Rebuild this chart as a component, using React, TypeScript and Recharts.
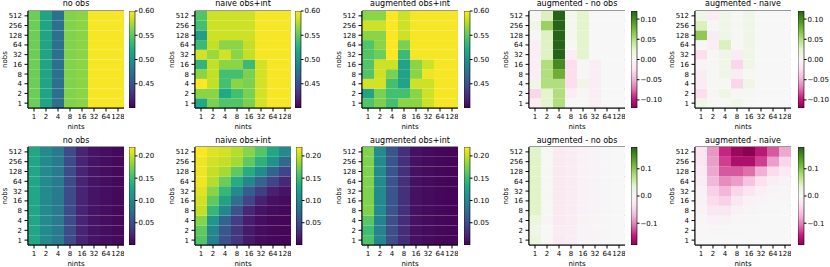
import React from "react";
import { BarChart, Bar, XAxis, YAxis, Cell, ReferenceArea } from "recharts";

const nints = ["1", "2", "4", "8", "16", "32", "64", "128"];
const nobs = ["1", "2", "4", "8", "16", "32", "64", "128", "256", "512"]; // bottom -> top

// each matrix: rows from nobs=512 (top) down to nobs=1, columns follow nints
const topNoObs = [
  [0.555, 0.516, 0.474, 0.562, 0.565, 0.598, 0.598, 0.598],
  [0.555, 0.516, 0.474, 0.562, 0.565, 0.598, 0.598, 0.598],
  [0.555, 0.516, 0.474, 0.562, 0.565, 0.598, 0.598, 0.598],
  [0.555, 0.516, 0.474, 0.562, 0.565, 0.598, 0.598, 0.598],
  [0.555, 0.516, 0.474, 0.562, 0.565, 0.598, 0.598, 0.598],
  [0.555, 0.516, 0.474, 0.562, 0.565, 0.598, 0.598, 0.598],
  [0.555, 0.516, 0.474, 0.562, 0.565, 0.598, 0.598, 0.598],
  [0.555, 0.516, 0.474, 0.562, 0.565, 0.598, 0.598, 0.598],
  [0.555, 0.516, 0.474, 0.562, 0.565, 0.598, 0.598, 0.598],
  [0.555, 0.516, 0.474, 0.562, 0.565, 0.598, 0.598, 0.598],
];

const topNaive = [
  [0.545, 0.585, 0.585, 0.585, 0.585, 0.598, 0.598, 0.598],
  [0.540, 0.585, 0.585, 0.585, 0.585, 0.598, 0.598, 0.598],
  [0.510, 0.585, 0.585, 0.585, 0.585, 0.598, 0.598, 0.598],
  [0.535, 0.582, 0.565, 0.565, 0.582, 0.598, 0.598, 0.598],
  [0.587, 0.570, 0.587, 0.565, 0.582, 0.598, 0.598, 0.598],
  [0.530, 0.582, 0.565, 0.565, 0.535, 0.587, 0.598, 0.598],
  [0.565, 0.582, 0.540, 0.540, 0.560, 0.587, 0.598, 0.598],
  [0.600, 0.582, 0.540, 0.565, 0.560, 0.587, 0.598, 0.598],
  [0.565, 0.565, 0.520, 0.540, 0.560, 0.587, 0.598, 0.598],
  [0.520, 0.560, 0.545, 0.545, 0.560, 0.587, 0.598, 0.598],
];

const topAug = [
  [0.565, 0.565, 0.600, 0.585, 0.598, 0.598, 0.598, 0.598],
  [0.585, 0.585, 0.600, 0.585, 0.598, 0.598, 0.598, 0.598],
  [0.565, 0.565, 0.600, 0.585, 0.598, 0.598, 0.598, 0.598],
  [0.545, 0.565, 0.600, 0.560, 0.598, 0.598, 0.598, 0.598],
  [0.545, 0.555, 0.600, 0.535, 0.598, 0.598, 0.598, 0.598],
  [0.545, 0.585, 0.585, 0.515, 0.565, 0.585, 0.598, 0.598],
  [0.545, 0.585, 0.560, 0.515, 0.565, 0.595, 0.598, 0.598],
  [0.587, 0.587, 0.540, 0.515, 0.585, 0.585, 0.598, 0.598],
  [0.515, 0.560, 0.540, 0.540, 0.565, 0.585, 0.598, 0.598],
  [0.545, 0.560, 0.540, 0.565, 0.565, 0.585, 0.598, 0.598],
];

const topAugMinusNoObs = [
  [0.002, 0.030, 0.120, 0.006, 0.025, 0, 0, 0],
  [0.010, 0.060, 0.120, 0.006, 0.025, 0, 0, 0],
  [0.002, 0.028, 0.120, 0.006, 0.025, 0, 0, 0],
  [-0.010, 0.028, 0.120, 0.001, 0.025, 0, 0, 0],
  [-0.010, 0.028, 0.120, -0.010, 0.025, 0, 0, 0],
  [-0.010, 0.050, 0.100, -0.025, 0.001, -0.010, 0, 0],
  [-0.010, 0.050, 0.080, -0.025, 0.001, -0.010, 0, 0],
  [0.010, 0.050, 0.050, -0.025, 0.010, -0.010, 0, 0],
  [-0.030, 0.025, 0.050, -0.010, 0.001, -0.010, 0, 0],
  [-0.012, 0.025, 0.050, 0.001, 0.001, -0.010, 0, 0],
];

const topAugMinusNaive = [
  [0.010, -0.012, 0.010, 0.001, 0.010, 0, 0, 0],
  [0.030, 0.001, 0.010, 0.001, 0.010, 0, 0, 0],
  [0.065, -0.012, 0.010, 0.001, 0.010, 0, 0, 0],
  [0.001, -0.010, 0.030, 0.001, 0.010, 0, 0, 0],
  [-0.025, 0.001, 0.010, -0.012, 0.010, 0, 0, 0],
  [-0.003, 0.001, 0.010, -0.030, 0.010, 0, 0, 0],
  [-0.012, 0.001, 0.010, -0.012, 0.001, 0, 0, 0],
  [-0.012, 0.001, 0.001, -0.030, 0.010, 0, 0, 0],
  [-0.025, 0.001, 0.012, 0.001, 0.001, 0, 0, 0],
  [0.010, 0.001, 0.001, 0.008, 0.001, 0, 0, 0],
];

const botNoObs = [
  [0.130, 0.105, 0.090, 0.050, 0.022, 0.012, 0.008, 0.005],
  [0.130, 0.105, 0.090, 0.050, 0.022, 0.012, 0.008, 0.005],
  [0.130, 0.105, 0.090, 0.050, 0.022, 0.012, 0.008, 0.005],
  [0.130, 0.105, 0.090, 0.050, 0.022, 0.012, 0.008, 0.005],
  [0.130, 0.105, 0.090, 0.050, 0.022, 0.012, 0.008, 0.005],
  [0.130, 0.105, 0.090, 0.050, 0.022, 0.012, 0.008, 0.005],
  [0.130, 0.105, 0.090, 0.050, 0.022, 0.012, 0.008, 0.005],
  [0.130, 0.105, 0.090, 0.050, 0.022, 0.012, 0.008, 0.005],
  [0.130, 0.105, 0.090, 0.050, 0.022, 0.012, 0.008, 0.005],
  [0.130, 0.105, 0.090, 0.050, 0.022, 0.012, 0.008, 0.005],
];

const botNaive = [
  [0.220, 0.210, 0.205, 0.195, 0.180, 0.160, 0.130, 0.105],
  [0.215, 0.205, 0.200, 0.190, 0.165, 0.140, 0.110, 0.075],
  [0.215, 0.200, 0.190, 0.165, 0.135, 0.105, 0.070, 0.045],
  [0.215, 0.195, 0.170, 0.135, 0.100, 0.070, 0.045, 0.025],
  [0.210, 0.180, 0.145, 0.105, 0.065, 0.040, 0.020, 0.012],
  [0.205, 0.165, 0.125, 0.080, 0.045, 0.020, 0.010, 0.006],
  [0.200, 0.145, 0.100, 0.055, 0.025, 0.012, 0.006, 0.004],
  [0.180, 0.115, 0.070, 0.040, 0.018, 0.008, 0.004, 0.003],
  [0.165, 0.100, 0.060, 0.035, 0.015, 0.007, 0.004, 0.003],
  [0.160, 0.095, 0.055, 0.035, 0.015, 0.007, 0.004, 0.003],
];

const botAug = [
  [0.178, 0.105, 0.058, 0.030, 0.010, 0.006, 0.004, 0.003],
  [0.178, 0.105, 0.058, 0.030, 0.010, 0.006, 0.004, 0.003],
  [0.178, 0.105, 0.058, 0.030, 0.010, 0.006, 0.004, 0.003],
  [0.178, 0.105, 0.058, 0.030, 0.010, 0.006, 0.004, 0.003],
  [0.178, 0.105, 0.058, 0.030, 0.010, 0.006, 0.004, 0.003],
  [0.178, 0.105, 0.058, 0.030, 0.010, 0.006, 0.004, 0.003],
  [0.178, 0.105, 0.058, 0.030, 0.010, 0.006, 0.004, 0.003],
  [0.162, 0.098, 0.052, 0.028, 0.010, 0.006, 0.004, 0.003],
  [0.152, 0.098, 0.052, 0.028, 0.010, 0.006, 0.004, 0.003],
  [0.158, 0.100, 0.052, 0.028, 0.010, 0.006, 0.004, 0.003],
];

const botAugMinusNoObs = [
  [0.040, 0.004, -0.022, -0.018, -0.010, -0.006, -0.002, 0],
  [0.040, 0.004, -0.022, -0.018, -0.010, -0.006, -0.002, 0],
  [0.040, 0.004, -0.022, -0.018, -0.010, -0.006, -0.002, 0],
  [0.040, 0.004, -0.022, -0.018, -0.010, -0.006, -0.002, 0],
  [0.040, 0.004, -0.022, -0.018, -0.010, -0.006, -0.002, 0],
  [0.040, 0.004, -0.022, -0.018, -0.010, -0.006, -0.002, 0],
  [0.040, 0.004, -0.022, -0.018, -0.010, -0.006, -0.002, 0],
  [0.025, -0.004, -0.022, -0.018, -0.008, -0.004, -0.002, 0],
  [0.018, 0, -0.018, -0.015, -0.006, -0.004, -0.001, 0],
  [0.025, 0.001, -0.022, -0.015, -0.006, -0.004, -0.001, 0],
];

const botAugMinusNaive = [
  [-0.030, -0.090, -0.140, -0.170, -0.180, -0.150, -0.120, -0.080],
  [-0.025, -0.085, -0.130, -0.160, -0.160, -0.130, -0.085, -0.045],
  [-0.020, -0.080, -0.120, -0.120, -0.110, -0.075, -0.040, -0.020],
  [-0.015, -0.070, -0.095, -0.085, -0.060, -0.035, -0.015, -0.008],
  [-0.010, -0.050, -0.070, -0.045, -0.030, -0.012, -0.006, -0.003],
  [-0.008, -0.040, -0.050, -0.025, -0.010, -0.005, -0.002, -0.001],
  [-0.005, -0.025, -0.025, -0.010, -0.004, -0.002, -0.001, 0],
  [-0.003, -0.010, -0.008, -0.003, -0.002, -0.001, 0, 0],
  [0, -0.003, -0.002, -0.001, 0, 0, 0, 0],
  [0, 0, 0, 0, 0, 0, 0, 0],
];

const titles = ["no obs", "naive obs+int", "augmented obs+int", "augmented - no obs", "augmented - naive"];

const VIRIDIS = ["#440154", "#482475", "#414487", "#355f8d", "#2a788e", "#21918c", "#22a884", "#44bf70", "#7ad151", "#bddf26", "#fde725"];
const PIYG = ["#8e0152", "#c51b7d", "#de77ae", "#f1b6da", "#fde0ef", "#f7f7f7", "#e6f5d0", "#b8e186", "#7fbc41", "#4d9221", "#276419"];

const hexToRgb = (h: string) => [1, 3, 5].map((i) => parseInt(h.slice(i, i + 2), 16));

const sample = (stops: string[], t: number) => {
  const c = Math.max(0, Math.min(1, t)) * (stops.length - 1);
  const i = Math.min(Math.floor(c), stops.length - 2);
  const f = c - i;
  const a = hexToRgb(stops[i]);
  const b = hexToRgb(stops[i + 1]);
  const rgb = a.map((v, k) => Math.round(v + (b[k] - v) * f));
  return `rgb(${rgb.join(",")})`;
};

const minus = (v: number, d: number) => (v < 0 ? "\u2212" : "") + Math.abs(v).toFixed(d);

const FONT = "'DejaVu Sans', sans-serif";
const tickStyle = { fontSize: 7, fill: "#000" };

interface PanelProps {
  id: string;
  title: string;
  values: number[][];
  cmap: string[];
  vmin: number;
  vmax: number;
  cbTicks: number[];
  digits: number;
  left: number;
  cbLeft: number;
  top: number;
  titleTop: number;
  plotH: number;
}

const Panel = ({ id, title, values, cmap, vmin, vmax, cbTicks, digits, left, cbLeft, top, titleTop, plotH }: PanelProps) => {
  const data = nints.map((n) => {
    const row: Record<string, string | number> = { nint: n };
    nobs.forEach((_, k) => {
      row["r" + k] = 1;
    });
    return row;
  });
  const color = (v: number) => sample(cmap, (v - vmin) / (vmax - vmin));
  const chartH = 11 + plotH + 22;
  const gid = "cb-" + id;

  return (
    <>
      <div style={{ position: "absolute", left: left - 20, top: titleTop, width: 136, textAlign: "center", fontSize: 8, lineHeight: "8px", whiteSpace: "nowrap" }}>
        {title}
      </div>
      <div style={{ position: "absolute", left: left - 28, top }}>
        <BarChart width={124} height={chartH} data={data} margin={{ top: 11, right: 0, bottom: 0, left: 0 }} barCategoryGap={0} barGap={0}>
          <XAxis
            dataKey="nint"
            height={22}
            interval={0}
            tickSize={3.5}
            tickMargin={2.8}
            tick={tickStyle}
            stroke="#000"
            label={{ value: "nints", position: "insideBottom", offset: 1.3, fontSize: 7, fill: "#000" }}
          />
          <YAxis
            type="number"
            domain={[0, 10]}
            ticks={nobs.map((_, k) => k + 0.5)}
            tickFormatter={(v: number) => nobs[Math.floor(v)]}
            interval={0}
            width={28}
            tickSize={3.5}
            tickMargin={2.5}
            tick={tickStyle}
            stroke="#000"
            label={{ value: "nobs", angle: -90, position: "insideLeft", offset: 5, textAnchor: "middle", fontSize: 7, fill: "#000" }}
          />
          {nobs.map((_, k) => (
            <Bar key={k} dataKey={"r" + k} stackId="s" isAnimationActive={false}>
              {nints.map((_, j) => (
                <Cell key={j} fill={color(values[nobs.length - 1 - k][j])} />
              ))}
            </Bar>
          ))}
          <ReferenceArea y1={0} y2={10} fill="none" stroke="#000" strokeWidth={0.8} ifOverflow="visible" />
        </BarChart>
      </div>
      <div style={{ position: "absolute", left: cbLeft, top }}>
        <BarChart width={40} height={chartH} data={[{ k: "c", v: [vmin, vmax] }]} margin={{ top: 11, right: 0, bottom: 22, left: 0 }} barCategoryGap={0}>
          <defs>
            <linearGradient id={gid} x1="0" y1="1" x2="0" y2="0">
              {Array.from({ length: 21 }, (_, i) => (
                <stop key={i} offset={i / 20} stopColor={sample(cmap, i / 20)} />
              ))}
            </linearGradient>
          </defs>
          <XAxis dataKey="k" hide />
          <YAxis
            orientation="right"
            type="number"
            domain={[vmin, vmax]}
            ticks={cbTicks}
            tickFormatter={(v: number) => minus(v, digits)}
            interval={0}
            allowDataOverflow
            width={34}
            tickSize={2.5}
            tickMargin={1}
            axisLine={false}
            tick={tickStyle}
            stroke="#000"
          />
          <Bar dataKey="v" fill={`url(#${gid})`} stroke="#000" strokeWidth={0.6} isAnimationActive={false} />
        </BarChart>
      </div>
    </>
  );
};

const heatLefts = [28, 195, 362, 529, 695];
const cbLeftsTop = [129, 295, 464, 631, 798];
const cbLeftsBot = [129, 296, 464, 631, 798];

const topRow = [topNoObs, topNaive, topAug, topAugMinusNoObs, topAugMinusNaive];
const botRow = [botNoObs, botNaive, botAug, botAugMinusNoObs, botAugMinusNaive];

const App = () => {
  return (
    <div style={{ position: "fixed", left: 0, top: 0, width: 830, height: 267, background: "#fff", fontFamily: FONT, color: "#000", overflow: "hidden" }}>
      {topRow.map((values, i) => (
        <Panel
          key={"t" + i}
          id={"t" + i}
          title={titles[i]}
          values={values}
          cmap={i < 3 ? VIRIDIS : PIYG}
          vmin={i < 3 ? 0.4 : -0.12}
          vmax={i < 3 ? 0.6 : 0.12}
          cbTicks={i < 3 ? [0.45, 0.5, 0.55, 0.6] : [-0.1, -0.05, 0, 0.05, 0.1]}
          digits={2}
          left={heatLefts[i]}
          cbLeft={cbLeftsTop[i]}
          top={0}
          titleTop={0}
          plotH={97}
        />
      ))}
      {botRow.map((values, i) => (
        <Panel
          key={"b" + i}
          id={"b" + i}
          title={titles[i]}
          values={values}
          cmap={i < 3 ? VIRIDIS : PIYG}
          vmin={i < 3 ? 0 : -0.18}
          vmax={i < 3 ? 0.22 : 0.18}
          cbTicks={i < 3 ? [0.05, 0.1, 0.15, 0.2] : [-0.1, 0, 0.1]}
          digits={i < 3 ? 2 : 1}
          left={heatLefts[i]}
          cbLeft={cbLeftsBot[i]}
          top={136}
          titleTop={137}
          plotH={98}
        />
      ))}
    </div>
  );
};

export default App;
